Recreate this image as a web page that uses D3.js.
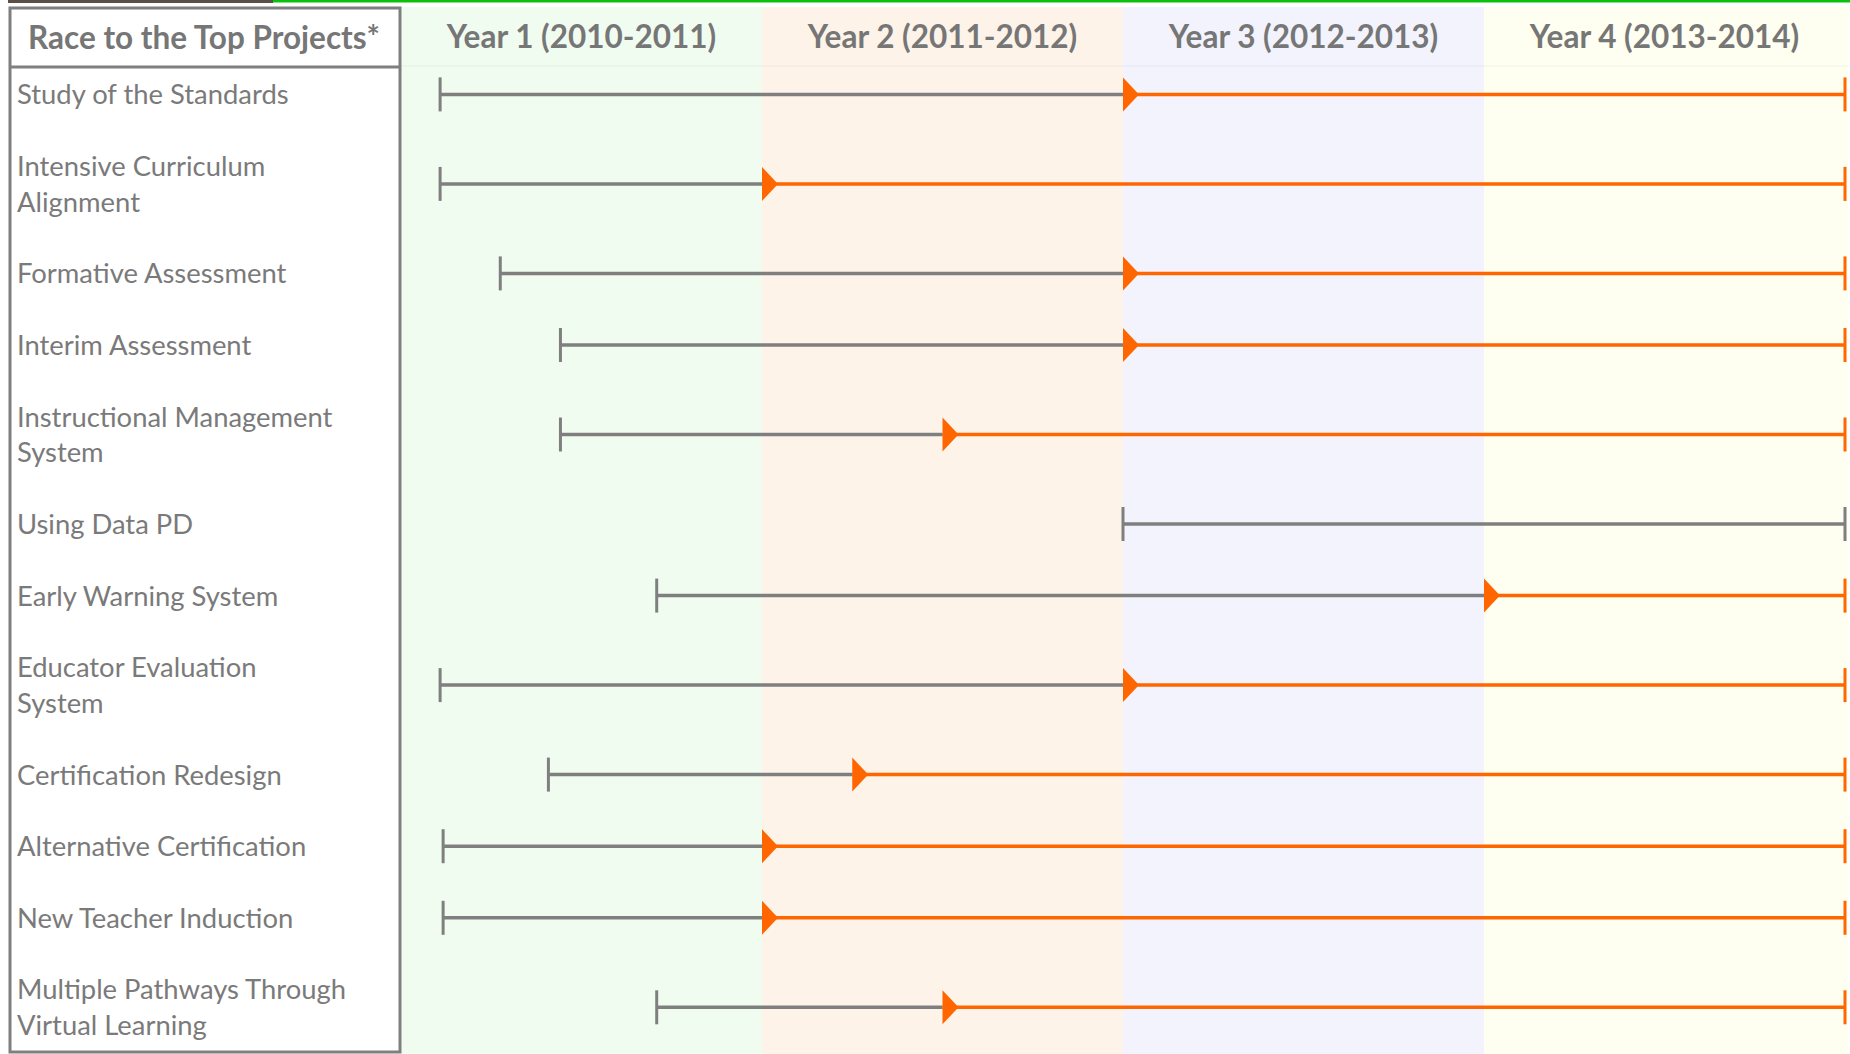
<!DOCTYPE html>
<html lang="en">
<head>
<meta charset="UTF-8">
<title>Race to the Top Projects</title>
<script src="https://cdn.jsdelivr.net/npm/d3@7"></script>
<style>
  body { margin: 0; background: #fff; }
  svg { display: block; font-family: Lato, "Open Sans", sans-serif; }
</style>
</head>
<body>
<div id="chart"></div>
<script>

// column headers, one per school year (12 months each)
const years = ["Year 1 (2010-2011)", "Year 2 (2011-2012)", "Year 3 (2012-2013)", "Year 4 (2013-2014)"];
const yearColors = ["#f1fcf1", "#fdf3e9", "#f3f3fd", "#fefef1"];

// project names, split the way they wrap in the table
const projects = [
  ["Study of the Standards"],
  ["Intensive Curriculum", "Alignment"],
  ["Formative Assessment"],
  ["Interim Assessment"],
  ["Instructional Management", "System"],
  ["Using Data PD"],
  ["Early Warning System"],
  ["Educator Evaluation", "System"],
  ["Certification Redesign"],
  ["Alternative Certification"],
  ["New Teacher Induction"],
  ["Multiple Pathways Through", "Virtual Learning"]
];

// months from the start of year 1
const startMonth  = [1.3, 1.3, 3.3, 5.3, 5.3, 24, 8.5, 1.3, 4.9, 1.4, 1.4, 8.5];
const switchMonth = [24, 12, 24, 24, 18, null, 36, 24, 15, 12, 12, 18];
const endMonth    = [48, 48, 48, 48, 48, 48, 48, 48, 48, 48, 48, 48];

const W = 1850, H = 1054;
const gray = "#7f7f7f", orange = "#ff6600";

const svg = d3.select("#chart").append("svg").attr("width", W).attr("height", H);

const x = d3.scaleLinear().domain([0, 48]).range([401, 1845]);
// label text runs as lines of a list, a blank line after each project
const lineY = d3.scaleLinear().domain([0, 1]).range([94.4, 130.2]);

let li = 0;
const rows = projects.map((lines, i) => {
  const first = li;
  li += lines.length + 1;
  return { lines, first, center: first + (lines.length - 1) / 2,
           s: startMonth[i], m: switchMonth[i], e: endMonth[i] };
});

// top strip
svg.append("rect").attr("x", 8).attr("y", 0).attr("width", 265).attr("height", 3).attr("fill", "#5a5048");
svg.append("rect").attr("x", 273).attr("y", 0).attr("width", W - 273).attr("height", 2.5).attr("fill", "#0cc00c");

// year bands
svg.selectAll("rect.band")
  .data(years)
  .enter().append("rect")
  .attr("class", "band")
  .attr("x", (d, i) => x(i * 12))
  .attr("y", 7)
  .attr("width", (d, i) => x((i + 1) * 12) - x(i * 12) + (i == 3 ? 3 : 0))
  .attr("height", H - 7)
  .attr("fill", (d, i) => yearColors[i]);

svg.append("line")
  .attr("x1", x(0)).attr("x2", x(48) + 3).attr("y1", 66).attr("y2", 66)
  .attr("stroke", "#000").attr("stroke-opacity", 0.025).attr("stroke-width", 2);

svg.selectAll("text.year")
  .data(years)
  .enter().append("text")
  .attr("class", "year")
  .attr("x", (d, i) => x(i * 12 + 6))
  .attr("y", 48)
  .attr("text-anchor", "middle")
  .attr("fill", "#767676")
  .attr("font-weight", "bold")
  .attr("font-size", 31.5)
  .text(d => d);

// label table
svg.append("rect").attr("x", 10).attr("y", 8).attr("width", 390).attr("height", H - 10)
  .attr("fill", "#fff").attr("stroke", gray).attr("stroke-width", 3);
svg.append("line").attr("x1", 10).attr("x2", 400).attr("y1", 67).attr("y2", 67)
  .attr("stroke", gray).attr("stroke-width", 3);
svg.append("text")
  .attr("x", 204).attr("y", 49)
  .attr("text-anchor", "middle")
  .attr("fill", "#767676")
  .attr("font-weight", "bold")
  .attr("font-size", 31.5)
  .text("Race to the Top Projects*");

const labels = svg.selectAll("text.label")
  .data(rows)
  .enter().append("text")
  .attr("class", "label")
  .attr("fill", "#7a7a7a")
  .attr("font-size", 27.4);
labels.selectAll("tspan")
  .data(d => d.lines.map((t, k) => ({ t, k: d.first + k })))
  .enter().append("tspan")
  .attr("x", 17)
  .attr("y", d => lineY(d.k) + 10)
  .text(d => d.t);

// timelines
const g = svg.selectAll("g.row")
  .data(rows)
  .enter().append("g")
  .attr("class", "row")
  .attr("transform", d => `translate(0,${lineY(d.center)})`);

g.append("line")
  .attr("x1", d => x(d.s))
  .attr("x2", d => x(d.m == null ? d.e : d.m))
  .attr("stroke", gray).attr("stroke-width", 3.5);

g.filter(d => d.m != null).append("line")
  .attr("x1", d => x(d.m))
  .attr("x2", d => x(d.e))
  .attr("stroke", orange).attr("stroke-width", 3.5);

g.append("line")
  .attr("x1", d => x(d.s)).attr("x2", d => x(d.s))
  .attr("y1", -17).attr("y2", 17)
  .attr("stroke", gray).attr("stroke-width", 3);

g.append("line")
  .attr("x1", d => x(d.e)).attr("x2", d => x(d.e))
  .attr("y1", -17).attr("y2", 17)
  .attr("stroke", d => d.m == null ? gray : orange).attr("stroke-width", 3);

g.filter(d => d.m != null).append("path")
  .attr("d", d => `M${x(d.m)},-17L${x(d.m) + 16},0L${x(d.m)},17Z`)
  .attr("fill", orange);

</script>
</body>
</html>
